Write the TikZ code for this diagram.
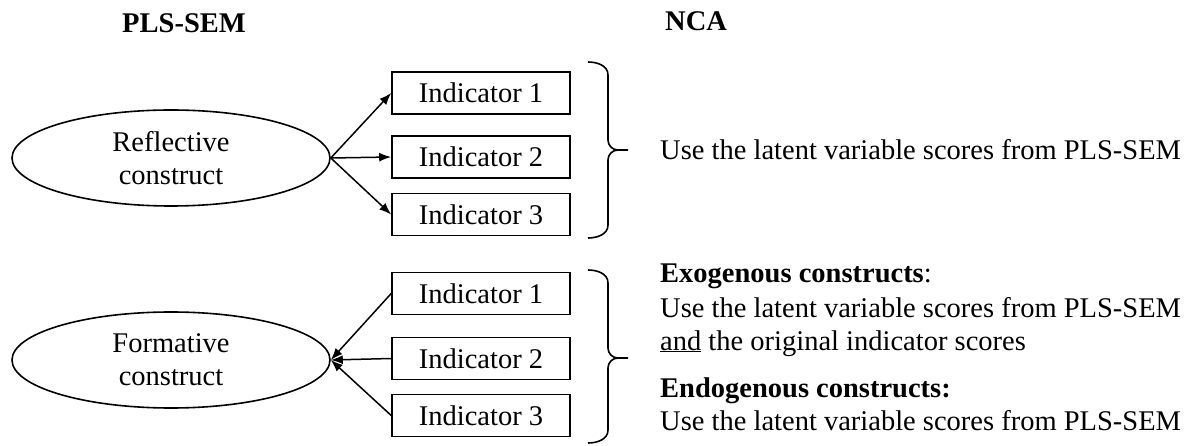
\documentclass[tikz,border=0pt]{standalone}
\usepackage{fontspec}
\setmainfont{Liberation Serif}
\usetikzlibrary{shapes.geometric,arrows.meta}
\begin{document}
\begin{tikzpicture}[x=1pt,y=-1pt,
  every node/.style={font=\fontsize{28.5}{33}\selectfont, inner sep=0pt},
  indbox/.style={draw, line width=1.6pt, minimum width=178pt, minimum height=42pt},
  construct/.style={draw, ellipse, line width=1.6pt, minimum width=318pt, minimum height=96pt, align=center},
  conn/.style={line width=1.5pt, -{Latex[length=12pt,width=9pt]}},
  bracestyle/.style={line width=1.6pt},
  txt/.style={anchor=base west}
]
\useasboundingbox (0,0) rectangle (1202,446);

% headings
\node[anchor=base, font=\fontsize{28.5}{33}\selectfont\bfseries] (hpls) at (184,33) {PLS-SEM};
\node[anchor=base west, font=\fontsize{28.5}{33}\selectfont\bfseries] (hnca) at (665,31) {NCA};

% reflective
\node[construct] (rc) at (171,158) {Reflective\\construct};
\node[indbox] (r1) at (481,93) {Indicator 1};
\node[indbox] (r2) at (481,157) {Indicator 2};
\node[indbox] (r3) at (481,214.5) {Indicator 3};
\draw[conn] (rc.east) -- (r1.west);
\draw[conn] (rc.east) -- (r2.west);
\draw[conn] (rc.east) -- (r3.west);

% formative
\node[construct] (fc) at (171,360) {Formative\\construct};
\node[indbox] (f1) at (481,293.5) {Indicator 1};
\node[indbox] (f2) at (481,358.5) {Indicator 2};
\node[indbox] (f3) at (481,415.5) {Indicator 3};
\draw[conn] (f1.west) -- (fc.east);
\draw[conn] (f2.west) -- (fc.east);
\draw[conn] (f3.west) -- (fc.east);

% braces
\draw[bracestyle] (588,62) to[out=0,in=90] (608,75) -- (608,140) to[out=-90,in=180] (618,150) -- (628,150);
\draw[bracestyle] (618,150) to[out=180,in=90] (608,160) -- (608,225) to[out=-90,in=0] (588,238);
\draw[bracestyle] (588,270) to[out=0,in=90] (608,283) -- (608,348) to[out=-90,in=180] (618,358) -- (628,358);
\draw[bracestyle] (618,358) to[out=180,in=90] (608,368) -- (608,430) to[out=-90,in=0] (588,443);

% texts
\node[txt] (t0) at (660,160) {Use the latent variable scores from PLS-SEM};
\node[txt] (t1) at (660,283) {\textbf{Exogenous constructs}:};
\node[txt] (t2) at (660,317) {Use the latent variable scores from PLS-SEM};
\node[txt] (t3) at (660,350) {\underline{and} the original indicator scores};
\node[txt] (t4) at (660,397) {\textbf{Endogenous constructs:}};
\node[txt] (t5) at (660,430) {Use the latent variable scores from PLS-SEM};
\end{tikzpicture}
\end{document}
